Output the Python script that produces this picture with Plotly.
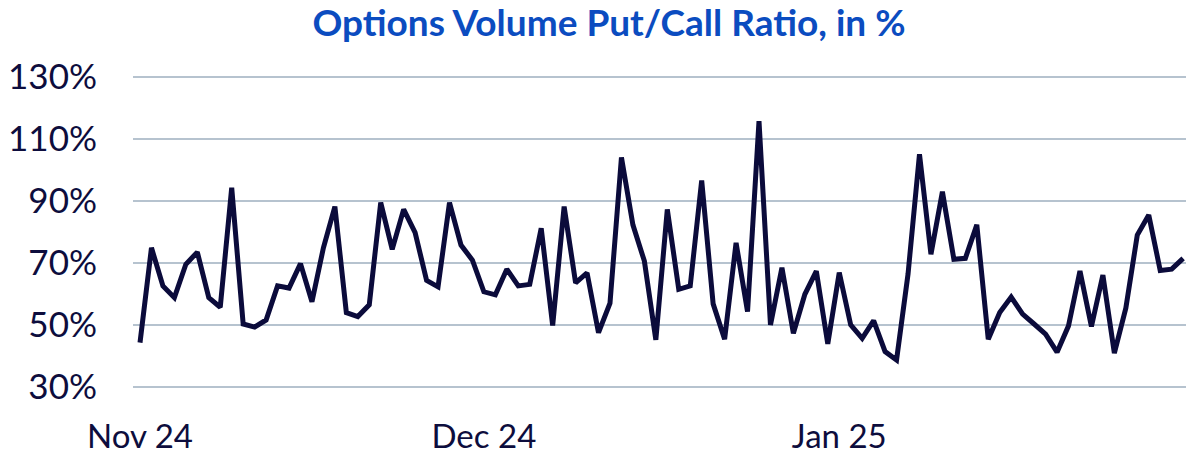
import plotly.graph_objects as go
import pandas as pd

# Daily dates, 1 Nov 2024 .. 31 Jan 2025
start_date = "2024-11-01"
n_days = 92
dates = pd.date_range(start_date, periods=n_days, freq="D")

# Put/Call ratio values in %
put_call_ratio = [
    44.3, 74.9, 62.6, 58.8, 69.6, 73.5, 58.8, 55.7, 94.3, 50.3,
    49.3, 51.6, 62.6, 61.9, 69.8, 57.5, 74.9, 88.2, 54.0, 52.7,
    56.5, 89.5, 74.4, 87.3, 79.8, 64.4, 62.3, 89.5, 75.8, 70.9,
    60.7, 59.7, 68.0, 62.6, 63.1, 81.2, 49.8, 88.2, 63.6, 66.8,
    47.5, 57.0, 104.1, 82.3, 70.6, 45.2, 87.3, 61.5, 62.6, 96.6,
    56.8, 45.4, 76.5, 54.3, 115.8, 50.0, 68.5, 47.3, 59.9, 67.4,
    43.9, 66.9, 50.0, 45.7, 51.4, 41.4, 38.7, 66.4, 105.1, 72.8,
    93.0, 71.2, 71.5, 82.3, 45.4, 54.0, 59.0, 53.5, 50.3, 47.0,
    41.2, 49.7, 67.4, 49.5, 66.1, 40.9, 55.4, 79.0, 85.5, 67.6,
    68.0, 71.5,
]

month_ticks = ["2024-11-01", "2024-12-01", "2025-01-01"]
month_labels = ["Nov 24", "Dec 24", "Jan 25"]
y_ticks = [30, 50, 70, 90, 110, 130]
y_labels = ["30%", "50%", "70%", "90%", "110%", "130%"]

title_text = "Options Volume Put/Call Ratio, in %"

fig = go.Figure()
fig.add_trace(go.Scatter(
    x=dates, y=put_call_ratio, mode="lines",
    line=dict(color="#0b0b3b", width=5),
    hoverinfo="skip", showlegend=False,
))

fig.update_layout(
    width=1186, height=456,
    margin=dict(l=133, r=0, t=74, b=66, autoexpand=False),
    paper_bgcolor="white", plot_bgcolor="white",
    title=dict(
        text=title_text, x=0.5135, xanchor="center", xref="container",
        y=0.95, yanchor="middle", yref="container",
        font=dict(family="Lato", size=37, color="#0b4cc0", weight="bold"),
    ),
    font=dict(family="Lato", color="#0d0d3d"),
)
fig.update_xaxes(
    type="date", automargin=False,
    range=["2024-10-31 09:20", "2025-01-31 06:00"],
    tickvals=month_ticks, ticktext=month_labels,
    showgrid=False, zeroline=False, showline=False,
    ticks="outside", ticklen=17, tickcolor="rgba(0,0,0,0)",
    tickfont=dict(family="Lato", size=33, color="#0d0d3d"),
)
fig.update_yaxes(
    range=[29, 131], automargin=False,
    tickvals=y_ticks, ticktext=y_labels,
    showgrid=True, gridcolor="#b6c3cf", gridwidth=2,
    zeroline=False, showline=False,
    ticks="outside", ticklen=28, tickcolor="rgba(0,0,0,0)",
    tickfont=dict(family="Lato", size=35, color="#0d0d3d"),
)

fig.write_html(
    "out.html",
    config={"displayModeBar": False},
    post_script="document.body.style.margin='0';document.body.style.overflow='hidden';",
)
